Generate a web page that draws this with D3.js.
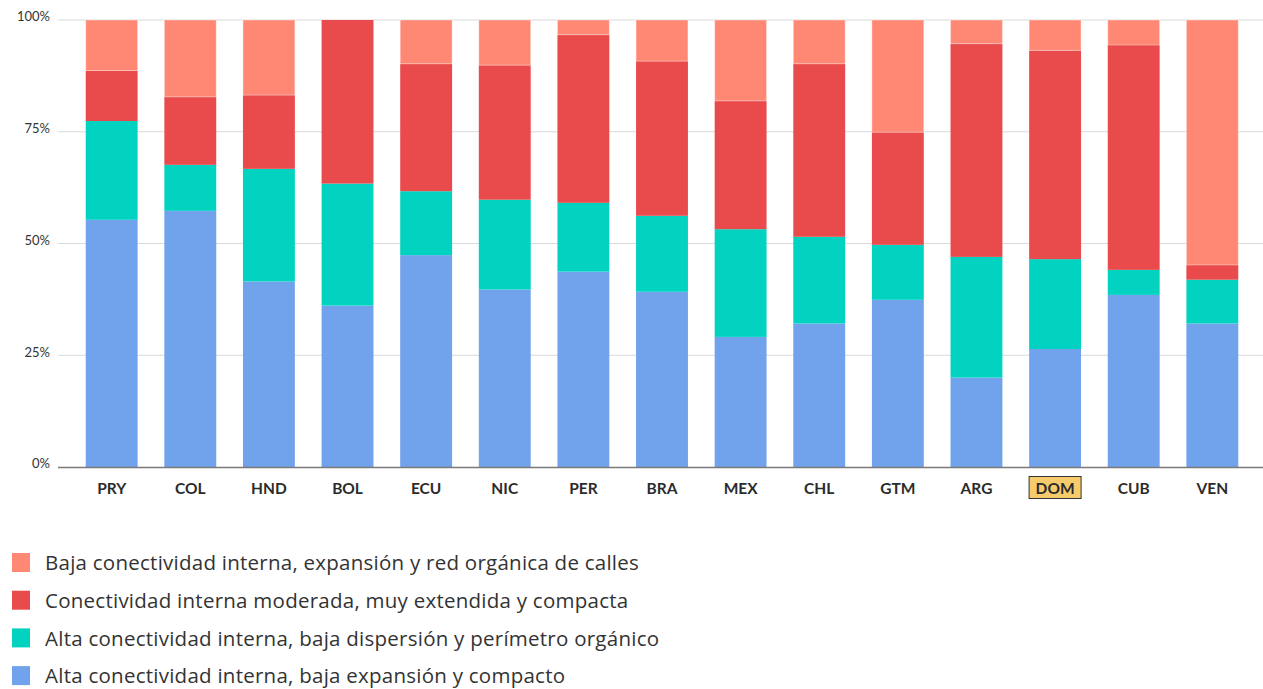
<!DOCTYPE html>
<meta charset="utf-8">
<script src="https://d3js.org/d3.v7.min.js"></script>
<style>
  body { margin: 0; background: #fff; }
  text { font-family: Lato, "Open Sans", sans-serif; }
  text.legend-label { font-family: "Open Sans", sans-serif; letter-spacing: 0.25px; }
</style>
<div id="chart"></div>
<script>
// countries (x axis)
var countries = ["PRY", "COL", "HND", "BOL", "ECU", "NIC", "PER", "BRA", "MEX", "CHL", "GTM", "ARG", "DOM", "CUB", "VEN"];

// shares per urban type, in %, bottom to top
var altaCompacto   = [55.3, 57.3, 41.5, 36.1, 47.4, 39.7, 43.7, 39.2, 29.1, 32.1, 37.4, 20.0, 26.4, 38.5, 32.1];
var altaOrganico   = [22.1, 10.3, 25.2, 27.3, 14.3, 20.1, 15.4, 17.0, 24.1, 19.4, 12.3, 27.0, 20.1,  5.6,  9.8];
var moderada       = [11.3, 15.2, 16.5, 36.6, 28.5, 30.1, 37.6, 34.6, 28.7, 38.7, 25.2, 47.7, 46.7, 50.3,  3.3];
var bajaOrganica   = [11.3, 17.2, 16.8,  0.0,  9.8, 10.1,  3.3,  9.2, 18.1,  9.8, 25.1,  5.3,  6.8,  5.6, 54.8];

var seriesKeys = ["altaCompacto", "altaOrganico", "moderada", "bajaOrganica"];
var seriesLabels = {
  bajaOrganica: "Baja conectividad interna, expansión y red orgánica de calles",
  moderada: "Conectividad interna moderada, muy extendida y compacta",
  altaOrganico: "Alta conectividad interna, baja dispersión y perímetro orgánico",
  altaCompacto: "Alta conectividad interna, baja expansión y compacto"
};
var legendOrder = ["bajaOrganica", "moderada", "altaOrganico", "altaCompacto"];

var yTicks = [0, 25, 50, 75, 100];
var highlight = "DOM";

var color = d3.scaleOrdinal()
  .domain(seriesKeys)
  .range(["#71a2ec", "#02d3c1", "#e94b4d", "#ff8875"]);

// build table for the stack
var table = countries.map(function(c, i) {
  return {
    country: c,
    altaCompacto: altaCompacto[i],
    altaOrganico: altaOrganico[i],
    moderada: moderada[i],
    bajaOrganica: bajaOrganica[i]
  };
});

var W = 1263, H = 689;
var svg = d3.select("#chart").append("svg")
  .attr("width", W)
  .attr("height", H);

var x = d3.scaleBand()
  .domain(countries)
  .range([59, 1265])
  .paddingInner(0.34)
  .paddingOuter(0.34);

var y = d3.scaleLinear()
  .domain([0, 100])
  .range([467, 20]);

// gridlines
svg.append("g")
  .selectAll("line")
  .data(yTicks.filter(function(d) { return d > 0; }))
  .join("line")
    .attr("x1", 58)
    .attr("x2", W)
    .attr("y1", function(d) { return y(d); })
    .attr("y2", function(d) { return y(d); })
    .attr("stroke", "#d9d9d9")
    .attr("stroke-width", 1);

// y tick labels
svg.append("g")
  .selectAll("text")
  .data(yTicks)
  .join("text")
    .attr("x", 50)
    .attr("y", function(d) { return y(d); })
    .attr("dy", "0.1em")
    .attr("text-anchor", "end")
    .attr("font-size", 13)
    .attr("fill", "#333")
    .text(function(d) { return d + "%"; });

// stacked bars
var stacked = d3.stack().keys(seriesKeys)(table);

svg.append("g")
  .selectAll("g")
  .data(stacked)
  .join("g")
    .attr("fill", function(d) { return color(d.key); })
    .attr("stroke", function(d) { return d.key === "bajaOrganica" ? "rgba(255,255,255,0.35)" : "none"; })
  .selectAll("rect")
  .data(function(d) { return d; })
  .join("rect")
    .attr("x", function(d) { return x(d.data.country); })
    .attr("y", function(d) { return y(d[1]); })
    .attr("height", function(d) { return y(d[0]) - y(d[1]); })
    .attr("width", x.bandwidth());

// baseline
svg.append("line")
  .attr("x1", 58)
  .attr("x2", W)
  .attr("y1", y(0) + 0.5)
  .attr("y2", y(0) + 0.5)
  .attr("stroke", "#7a7a7a")
  .attr("stroke-width", 1.5);

// x labels
var xLab = svg.append("g")
  .selectAll("g")
  .data(countries)
  .join("g")
    .attr("transform", function(d) { return "translate(" + (x(d) + x.bandwidth() / 2) + ",488)"; });

xLab.filter(function(d) { return d === highlight; })
  .append("rect")
    .attr("x", -26)
    .attr("y", -11.5)
    .attr("width", 52)
    .attr("height", 22)
    .attr("fill", "#f6cb6b")
    .attr("stroke", "#333")
    .attr("stroke-width", 1);

xLab.append("text")
  .attr("text-anchor", "middle")
  .attr("dy", "0.36em")
  .attr("font-size", 15.5)
  .attr("font-weight", 700)
  .attr("fill", "#2b2b2b")
  .text(function(d) { return d; });

// legend
var legend = svg.append("g")
  .selectAll("g")
  .data(legendOrder)
  .join("g")
    .attr("transform", function(d, i) { return "translate(12," + (563 + i * 37.7) + ")"; });

legend.append("rect")
  .attr("x", 0)
  .attr("y", -10)
  .attr("width", 18)
  .attr("height", 19)
  .attr("fill", function(d) { return color(d); });

legend.append("text")
  .attr("class", "legend-label")
  .attr("x", 33)
  .attr("dy", "0.35em")
  .attr("font-size", 20.5)
  .attr("fill", "#333")
  .text(function(d) { return seriesLabels[d]; });
</script>
